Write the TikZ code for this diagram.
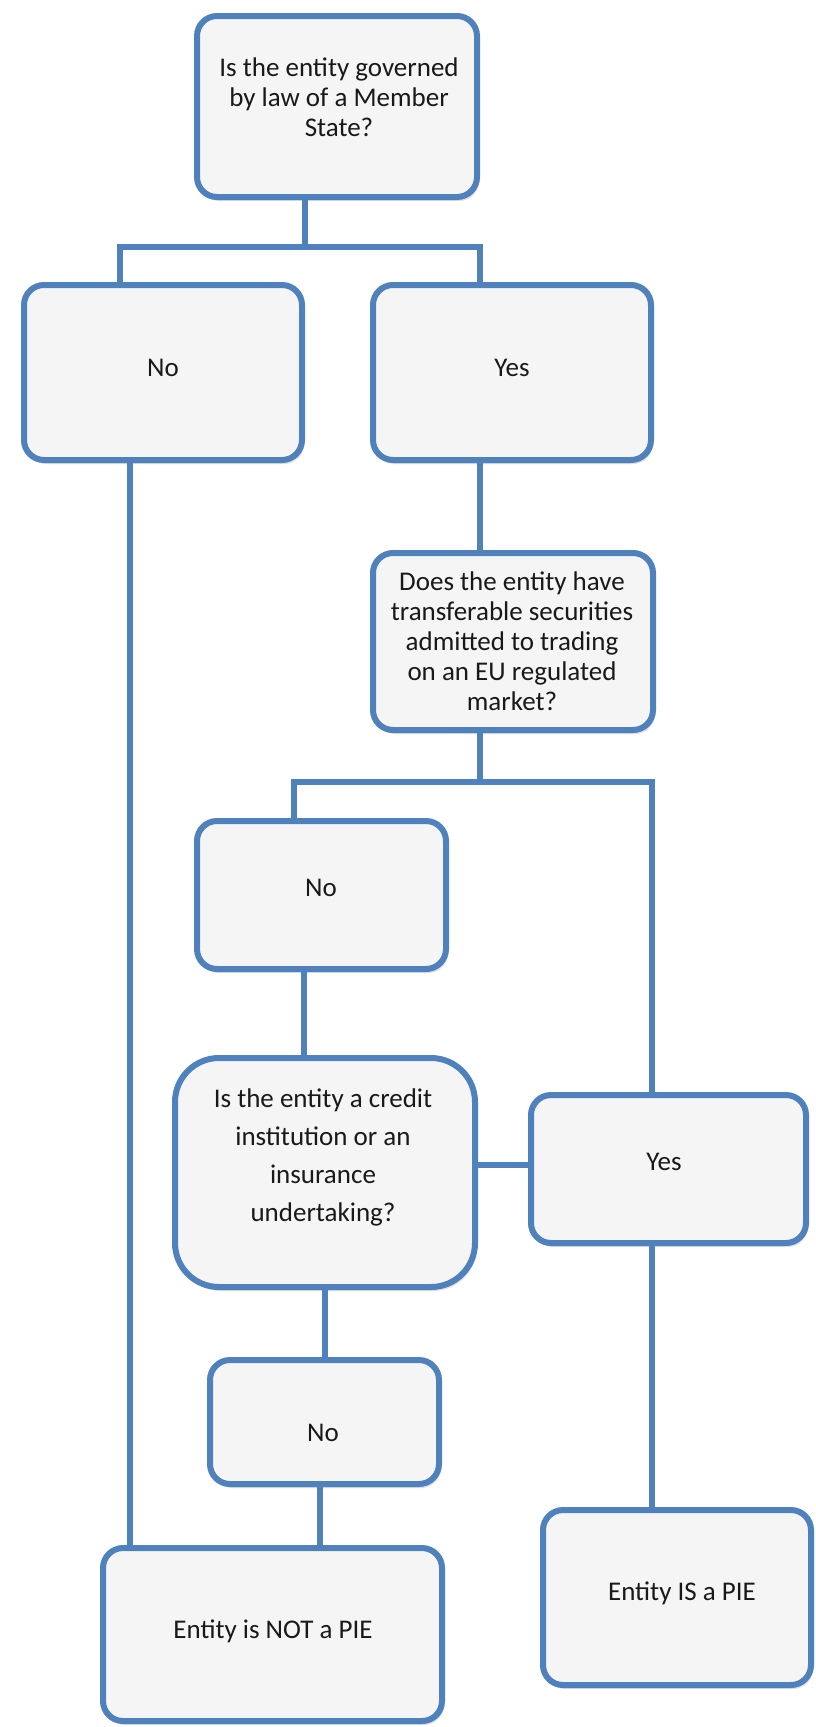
\documentclass[tikz,border=0pt]{standalone}
\usepackage{fontspec}
\setmainfont{Carlito}
\usetikzlibrary{shadows}
\definecolor{bluebd}{RGB}{79,129,189}
\definecolor{boxfill}{RGB}{245,245,245}
\definecolor{txtcol}{RGB}{25,25,25}
\begin{document}
\begin{tikzpicture}[x=1pt,y=-1pt,
  box/.style={draw=bluebd, line width=6pt, fill=boxfill, rounded corners=20pt,
    drop shadow={opacity=0.25, shadow xshift=2pt, shadow yshift=-4pt}, inner sep=0pt},
  bigbox/.style={box, rounded corners=44pt},
  conn/.style={draw=bluebd, line width=5.5pt},
  txt/.style={align=center, font=\fontsize{27}{30}\selectfont, text=txtcol, inner sep=0pt},
  wtxt/.style={txt, font=\fontsize{27}{38}\selectfont}]
\useasboundingbox (0,0) rectangle (816,1727);

% boxes
\node[box, minimum width=280pt, minimum height=181pt] (q1) at (337,106.5) {};
\node[box, minimum width=278pt, minimum height=175pt] (no1) at (163,372.5) {};
\node[box, minimum width=278pt, minimum height=175pt] (yes1) at (512,372.5) {};
\node[box, minimum width=280pt, minimum height=177pt] (q2) at (513,641.5) {};
\node[box, minimum width=249pt, minimum height=148pt] (no2) at (321.5,895) {};
\node[bigbox, minimum width=300pt, minimum height=229pt] (q3) at (325,1172.5) {};
\node[box, minimum width=275pt, minimum height=148pt] (yes2) at (668.5,1169) {};
\node[box, minimum width=229pt, minimum height=124pt] (no3) at (324.5,1422) {};
\node[box, minimum width=339pt, minimum height=173pt] (notpie) at (272.5,1634.5) {};
\node[box, minimum width=268pt, minimum height=175pt] (pie) at (677,1597.5) {};

% texts
\node[txt] (q1t) at (339,97) {Is the entity governed\\by law of a Member\\State?};
\node[txt] (no1t) at (163,368) {No};
\node[txt] (yes1t) at (512,368) {Yes};
\node[txt] (q2t) at (512,641) {Does the entity have\\transferable securities\\admitted to trading\\on an EU regulated\\market?};
\node[txt] (no2t) at (321,888) {No};
\node[wtxt] (q3t) at (323,1157) {Is the entity a credit\\institution or an\\insurance\\undertaking?};
\node[txt] (yes2t) at (664,1162) {Yes};
\node[txt] (no3t) at (323,1433) {No};
\node[txt] (notpiet) at (273,1631) {Entity is NOT a PIE};
\node[txt] (piet) at (682,1593) {Entity IS a PIE};

% junction coordinates
\coordinate (j1) at (305,247);
\coordinate (j1l) at (120,247);
\coordinate (j1r) at (480,247);
\coordinate (c1) at (130,0);
\coordinate (j2) at (480,782);
\coordinate (j2l) at (294,782);
\coordinate (j2r) at (652,782);
\coordinate (c2) at (304,0);
\coordinate (l3) at (0,1165);
\coordinate (c3) at (325,0);
\coordinate (c4) at (320,0);

% connectors
\draw[conn] (j1 |- q1.south) -- (j1);
\draw[conn] (j1l |- no1.north) -- (j1l) -- (j1r) -- (j1r |- yes1.north);
\draw[conn] (c1 |- no1.south) -- (c1 |- notpie.north);
\draw[conn] (j1r |- yes1.south) -- (j1r |- q2.north);
\draw[conn] (j2 |- q2.south) -- (j2);
\draw[conn] (j2l |- no2.north) -- (j2l) -- (j2r) -- (j2r |- yes2.north);
\draw[conn] (c2 |- no2.south) -- (c2 |- q3.north);
\draw[conn] (q3.east |- l3) -- (yes2.west |- l3);
\draw[conn] (j2r |- yes2.south) -- (j2r |- pie.north);
\draw[conn] (c3 |- q3.south) -- (c3 |- no3.north);
\draw[conn] (c4 |- no3.south) -- (c4 |- notpie.north);
\end{tikzpicture}
\end{document}
